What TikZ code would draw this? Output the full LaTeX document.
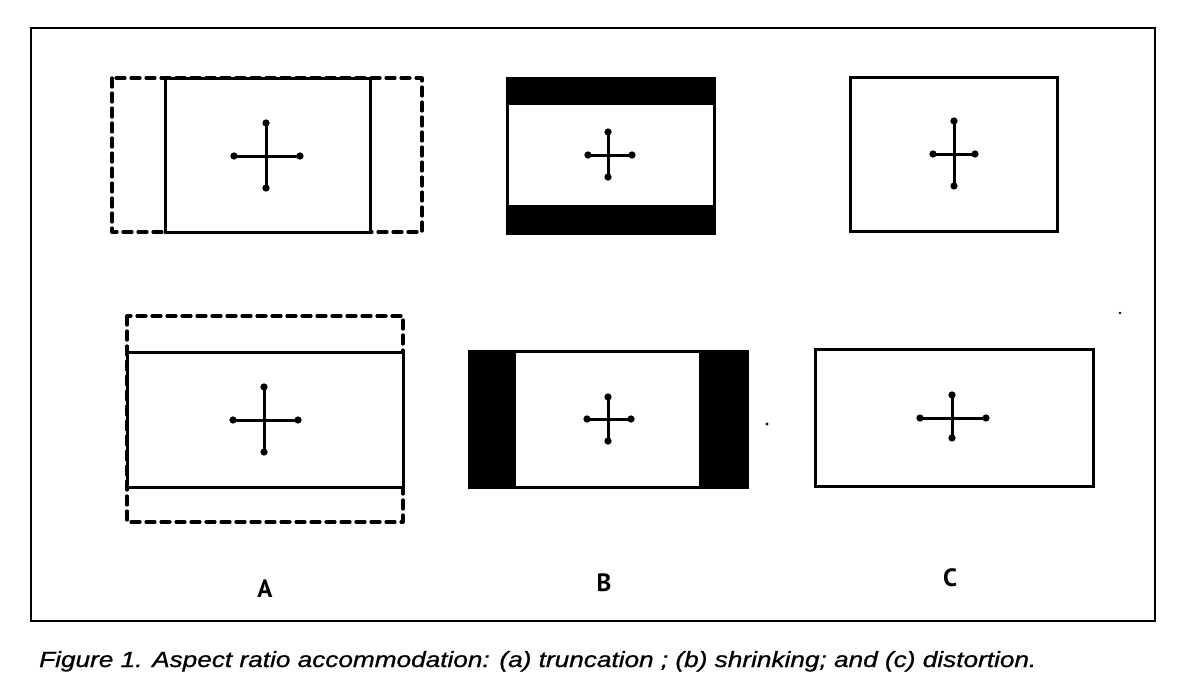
\documentclass[tikz,border=0pt]{standalone}
\usepackage{fontspec}
\setmainfont{Liberation Sans}
\newfontfamily\lblfont{PT Sans}
\newfontfamily\capfont{Liberation Sans}[FakeBold=0.8]
\usetikzlibrary{arrows.meta}
\tikzset{
  solidbox/.style={line width=3pt},
  dashbox/.style={line width=3.2pt, dash pattern=on 9pt off 6pt, line cap=round, line join=round},
  crossline/.style={line width=3pt, {Circle[length=7pt]}-{Circle[length=7pt]}, shorten <=-3.5pt, shorten >=-3.5pt},
  framebox/.style={line width=2.6pt},
  lbl/.style={font=\lblfont\bfseries\fontsize{25}{28}\selectfont, inner sep=0pt},
  caption/.style={font=\capfont\fontsize{22}{24}\selectfont\itshape, inner sep=0pt, anchor=base west},
  speck/.style={fill=black, draw=none}
}
\begin{document}
\begin{tikzpicture}[x=1pt,y=-1pt]
\useasboundingbox (0,0) rectangle (1192,686);
\fill[white] (0,0) rectangle (1192,686);
% outer frame
\draw[framebox] (31,28) rectangle (1155,621);
% ---- A top: truncation of sides
\draw[dashbox] (112,78) rectangle (422,232);
\draw[solidbox,fill=white] (165,78) rectangle (370,232);
\draw[crossline] (234,156) -- (300,156);
\draw[crossline] (266,123) -- (266,188);
% ---- B top: letterbox
\fill[black] (507,78) rectangle (714,105);
\fill[black] (507,205) rectangle (714,233);
\draw[solidbox] (507,78) rectangle (714,233);
\draw[crossline] (588,155) -- (632,155);
\draw[crossline] (608,132) -- (608,177);
% ---- C top
\draw[solidbox] (850,77) rectangle (1057,231);
\draw[crossline] (933,154) -- (975,154);
\draw[crossline] (954,121) -- (954,186);
% ---- A bottom
\draw[dashbox] (127,316) rectangle (403,522);
\draw[solidbox,fill=white] (127,352) rectangle (403,487);
\draw[crossline] (233,420) -- (298,420);
\draw[crossline] (264,387) -- (264,452);
% ---- B bottom: pillarbox
\fill[black] (469,351) rectangle (516,487);
\fill[black] (699,351) rectangle (747,487);
\draw[solidbox] (469,351) rectangle (747,487);
\draw[crossline] (587,419) -- (631,419);
\draw[crossline] (608,397) -- (608,441);
% ---- C bottom
\draw[solidbox] (815,349) rectangle (1093,486);
\draw[crossline] (920,418) -- (986,418);
\draw[crossline] (952,395) -- (952,438);
% specks
\fill[speck] (767,424) circle (1.6);
\fill[speck] (1120,313) circle (1.3);
% labels
\node[lbl] (la) at (265,589) {A};
\node[lbl] (lb) at (604,583) {B};
\node[lbl] (lc) at (950,578) {C};
% caption
\node[caption] (cap) at (39,667) {\scalebox{1.19}[1]{Figure 1. Aspect ratio accommodation: (a) truncation ; (b) shrinking; and (c) distortion.}};
\end{tikzpicture}
\end{document}
